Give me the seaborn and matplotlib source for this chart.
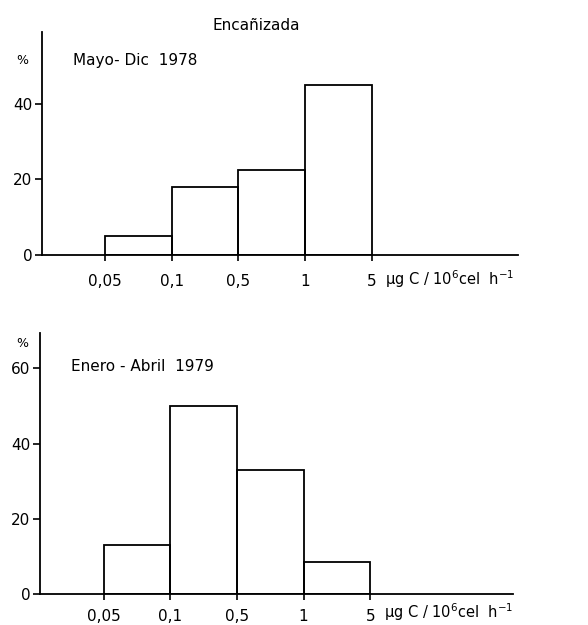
import matplotlib
matplotlib.use("Agg")
import matplotlib.pyplot as plt
import matplotlib.transforms as mtransforms
import seaborn as sns
import numpy as np
import pandas as pd

# ---- data ----
edge_labels = ["0,05", "0,1", "0,5", "1", "5"]
values_1978 = [5, 18, 22.5, 45]      # Mayo-Dic 1978
values_1979 = [13, 50, 33, 8.5]      # Enero-Abril 1979
yticks_1978 = [0, 20, 40]
yticks_1979 = [0, 20, 40, 60]
title = "Encañizada"
label_1978 = "Mayo- Dic  1978"
label_1979 = "Enero - Abril  1979"
unit = "µg C / 10$^6$cel  h$^{-1}$"

sns.set_style("ticks")
plt.rcParams["font.family"] = ["DejaVu Sans"]
plt.rcParams["text.color"] = "black"

fig = plt.figure(figsize=(5.88, 6.25), dpi=100)
ax1 = fig.add_axes([0.0714, 0.592, 0.81, 0.357])
ax2 = fig.add_axes([0.068, 0.0496, 0.805, 0.4176])

edges = np.arange(len(edge_labels))
centers = edges[:-1] + 0.5

def panel(ax, vals, yticks, ylim, xlim, lab, pad, unit_y):
    df = pd.DataFrame({"x": centers, "y": vals})
    sns.barplot(data=df, x="x", y="y", native_scale=True, width=1.0,
                fill=False, color="black", linewidth=1.3, errorbar=None, ax=ax)
    for p in ax.patches:
        p.set_edgecolor("black")
    ax.set_xlim(*xlim)
    ax.set_ylim(0, ylim)
    ax.set_xticks(edges)
    ax.set_xticklabels(edge_labels)
    ax.set_yticks(yticks)
    ax.set_yticklabels([str(t) for t in yticks])
    ax.set_xlabel("")
    ax.set_ylabel("")
    sns.despine(ax=ax)
    for s in ("left", "bottom"):
        ax.spines[s].set_linewidth(1.3)
        ax.spines[s].set_color("black")
    ax.tick_params(axis="x", direction="out", length=4, width=1.2, pad=pad,
                   labelsize=11, colors="black")
    ax.tick_params(axis="y", direction="out", length=5, width=1.2, pad=2,
                   labelsize=11, colors="black")
    ax.text(0.065, 0.87, lab, transform=ax.transAxes, fontsize=11,
            ha="left", va="center", color="black")
    trans = mtransforms.blended_transform_factory(ax.transData, ax.transAxes)
    ax.text(edges[-1] + 0.2, unit_y, unit, transform=trans, fontsize=10.5,
            ha="left", va="center", color="black")

panel(ax1, values_1978, yticks_1978, 59, (-0.95, 6.2), label_1978, 10, -0.108)
ax1.text(-0.042, 0.87, "%", transform=ax1.transAxes, fontsize=9,
         ha="center", va="center", color="black")
ax1.text(0.45, 1.03, title, transform=ax1.transAxes, fontsize=11,
         ha="center", va="center", color="black")

panel(ax2, values_1979, yticks_1979, 69.4, (-0.96, 6.15), label_1979, 7, -0.068)
ax2.text(-0.038, 0.96, "%", transform=ax2.transAxes, fontsize=9,
         ha="center", va="center", color="black")

fig.savefig("out.png", dpi=100, facecolor="white")
